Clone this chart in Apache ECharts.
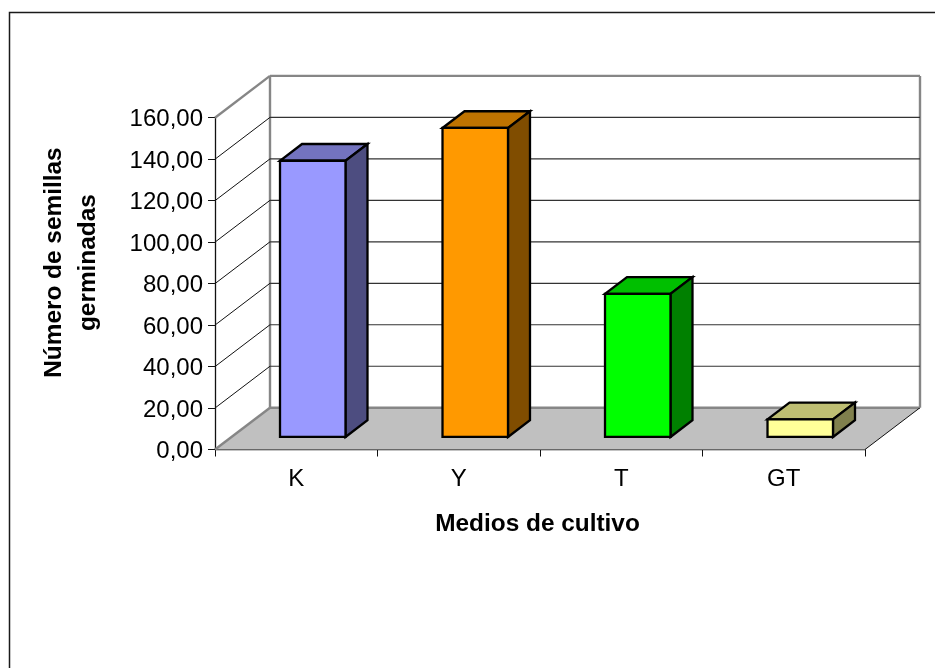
<!DOCTYPE html>
<html>
<head>
<meta charset="utf-8">
<style>html,body{margin:0;padding:0;background:#fff}#chart{width:935px;height:668px}</style>
<script src="https://cdn.jsdelivr.net/npm/echarts@6/dist/echarts.min.js"></script>
</head>
<body>
<div id="chart"></div>
<script>
const categories = ['K', 'Y', 'T', 'GT'];
const germinated = [133.2, 149, 69, 8.5];
const yTicks = [0, 20, 40, 60, 80, 100, 120, 140, 160];
const faceColors = ['#9999ff', '#ff9900', '#00ff00', '#ffff99'];
const topColors = ['#7373bf', '#bf7300', '#00bf00', '#bfbf73'];
const sideColors = ['#4d4d80', '#804d00', '#008000', '#80804d'];

// Oblique projection of the floor depth, in pixels for a full depth step.
const DEPTH_X = 55;
const DEPTH_Y = -41.8;
const BAR_SHARE = 0.403;
const DEPTH_NEAR = 0.3;
const DEPTH_FAR = 0.7;
const WALL_GREY = '#868686';

const shift = (p, d) => [p[0] + DEPTH_X * d, p[1] + DEPTH_Y * d];
const line = (a, b, stroke, lineWidth) => ({
  type: 'line',
  shape: { x1: a[0], y1: a[1], x2: b[0], y2: b[1] },
  style: { stroke, lineWidth, fill: null }
});
const poly = (points, fill) => ({
  type: 'polygon',
  shape: { points },
  style: { fill, stroke: '#000', lineWidth: 2.3, lineJoin: 'miter' }
});

// Floor, back wall and side wall with their gridlines, one item per tick.
function renderWalls(params, api) {
  const value = api.value(0);
  const band = api.size([1, 0])[0];
  const left = api.coord([0, value])[0] - band / 2;
  const right = left + band * categories.length;
  const y = api.coord([0, value])[1];
  const fl = [left, y], fr = [right, y];
  const bl = shift(fl, 1), br = shift(fr, 1);
  const children = [];
  if (value === yTicks[0]) {
    children.push({
      type: 'polygon',
      shape: { points: [fl, fr, br, bl] },
      style: { fill: '#c0c0c0' }
    });
    children.push(line(bl, br, WALL_GREY, 2.4));
    children.push(line(fl, bl, WALL_GREY, 2.4));
    children.push(line(fr, br, '#111', 1));
    const top = api.coord([0, yTicks[yTicks.length - 1]])[1];
    children.push(line(bl, [bl[0], top + DEPTH_Y], WALL_GREY, 2.4));
    children.push(line(br, [br[0], top + DEPTH_Y], WALL_GREY, 2.4));
  } else if (value === yTicks[yTicks.length - 1]) {
    children.push(line(bl, br, WALL_GREY, 2.4));
    children.push(line(fl, bl, WALL_GREY, 2.4));
  } else {
    children.push(line(bl, br, '#333', 1.2));
    children.push(line(fl, bl, '#111', 1));
  }
  return { type: 'group', children };
}

// A box standing on the floor: top, side, then front face.
function renderBox(params, api) {
  const i = api.value(0);
  const value = api.value(1);
  const band = api.size([1, 0])[0];
  const w = band * BAR_SHARE;
  const base = api.coord([i, 0]);
  const head = api.coord([i, value]);
  const x0 = base[0] - w / 2;
  const x1 = base[0] + w / 2;
  const n = (x, y) => shift([x, y], DEPTH_NEAR);
  const f = (x, y) => shift([x, y], DEPTH_FAR);
  return {
    type: 'group',
    children: [
      poly([n(x0, head[1]), n(x1, head[1]), f(x1, head[1]), f(x0, head[1])], topColors[i]),
      poly([n(x1, base[1]), f(x1, base[1]), f(x1, head[1]), n(x1, head[1])], sideColors[i]),
      poly([n(x0, base[1]), n(x1, base[1]), n(x1, head[1]), n(x0, head[1])], faceColors[i])
    ]
  };
}

const chart = echarts.init(document.getElementById('chart'), null, { renderer: 'canvas' });
chart.setOption({
  animation: false,
  backgroundColor: '#fff',
  textStyle: { fontFamily: 'Liberation Sans' },
  grid: { left: 215, right: 70, top: 117.7, height: 331.8 },
  graphic: [{
    type: 'polyline',
    shape: { points: [[9.5, 668], [9.5, 12.5], [935, 12.5]] },
    style: { stroke: '#1a1a1a', lineWidth: 1.5, fill: null }
  }],
  xAxis: {
    type: 'category',
    data: categories,
    name: 'Medios de cultivo',
    nameLocation: 'middle',
    nameGap: 63,
    nameTextStyle: { fontFamily: 'Liberation Sans', fontSize: 24.4, fontWeight: 'bold', color: '#000', padding: [0, 5, 0, 0] },
    axisLine: { show: true, onZero: false, lineStyle: { color: '#111', width: 1.3 } },
    axisTick: { show: true, alignWithLabel: false, length: 7, lineStyle: { color: '#111' } },
    axisLabel: { fontSize: 24, color: '#000', margin: 18, fontFamily: 'Liberation Sans' },
    splitLine: { show: false }
  },
  yAxis: {
    type: 'value',
    min: 0,
    max: 160,
    interval: 20,
    name: 'Número de semillas\ngerminadas',
    nameLocation: 'middle',
    nameGap: 110,
    nameRotate: 90,
    nameTextStyle: { fontFamily: 'Liberation Sans', fontSize: 24.4, fontWeight: 'bold', color: '#000', lineHeight: 34, padding: [0, 0, 0, 42] },
    axisLine: { show: true, lineStyle: { color: '#111', width: 1.3 } },
    axisTick: { show: true, length: 7, lineStyle: { color: '#111' } },
    axisLabel: {
      fontSize: 24, color: '#000', margin: 12, fontFamily: 'Liberation Sans',
      verticalAlign: 'top', padding: [-10, 0, 0, 0],
      formatter: v => v.toFixed(2).replace('.', ',')
    },
    splitLine: { show: false }
  },
  series: [
    {
      type: 'custom',
      z: 1,
      silent: true,
      renderItem: renderWalls,
      encode: { x: 1, y: 0 },
      data: yTicks.map(v => [v, 0])
    },
    {
      type: 'custom',
      z: 2,
      renderItem: renderBox,
      encode: { x: 0, y: 1 },
      data: germinated.map((v, i) => [i, v])
    }
  ]
});
</script>
</body>
</html>
